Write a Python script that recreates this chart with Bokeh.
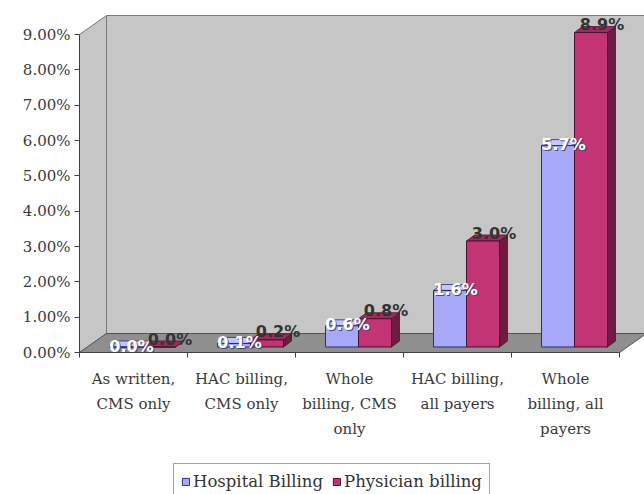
from bokeh.plotting import figure
from bokeh.models import (Range1d, LinearAxis, FixedTicker, NumeralTickFormatter,
                          Legend, LegendItem)
from bokeh.core.properties import value
from bokeh.embed import file_html
from bokeh.resources import INLINE

# ---- data ---------------------------------------------------------------
categories = [
    "As written,\nCMS only",
    "HAC billing,\nCMS only",
    "Whole\nbilling, CMS\nonly",
    "HAC billing,\nall payers",
    "Whole\nbilling, all\npayers",
]
hospital_pct = [0.0, 0.1, 0.6, 1.6, 5.7]
physician_pct = [0.0, 0.2, 0.8, 3.0, 8.9]
series_names = ["Hospital Billing", "Physician billing"]
y_ticks = [0.00, 0.01, 0.02, 0.03, 0.04, 0.05, 0.06, 0.07, 0.08, 0.09]

# ---- layout / projection constants (pixels -> data units) ----------------
W, H = 644, 494
ORIGIN_X, ORIGIN_Y = 79, 352   # screen position of the value-axis origin
PX_X = 108.0                   # pixels per category
PX_Y = 3533.33                 # pixels per unit of the value axis (fraction)

n = len(categories)
ymax = y_ticks[-1]

DX, DY = 27 / PX_X, 19 / PX_Y        # depth of walls / floor
BX, BY = 9 / PX_X, 5.5 / PX_Y        # bars sit a third into the depth
BW = 33 / PX_X                        # bar width
BDX, BDY = 8 / PX_X, 6 / PX_Y         # bar depth

p = figure(width=W, height=H,
           x_range=Range1d(-ORIGIN_X / PX_X, (W - ORIGIN_X) / PX_X),
           y_range=Range1d(-(H - ORIGIN_Y) / PX_Y, ORIGIN_Y / PX_Y),
           output_backend="svg", toolbar_location=None,
           x_axis_type=None, y_axis_type=None,
           min_border=0)
p.xgrid.visible = False
p.ygrid.visible = False
p.outline_line_color = None
p.background_fill_color = "white"
p.border_fill_color = "white"

WALL = "#c6c6c6"
FLOOR = "#8f8f8f"
EDGE = "#7a7a7a"

# back wall
p.quad(left=[DX], right=[n + DX], bottom=[DY], top=[ymax + DY],
       fill_color=WALL, line_color=EDGE, line_width=1)
# left side wall
p.patch([0, 0, DX, DX], [0, ymax, ymax + DY, DY],
        fill_color=WALL, line_color=EDGE, line_width=1)
# floor
p.patch([0, n, n + DX, DX], [0, 0, DY, DY],
        fill_color=FLOOR, line_color="#555555", line_width=1)

# ---- 3-D bars -------------------------------------------------------------
styles = [
    dict(front="#a8a8f8", top="#c6c6ff", side="#7676c8", line="#2a2a7a"),
    dict(front="#c23473", top="#a02a5e", side="#6e1a42", line="#4a1030"),
]
front_renderers = []
label_data = []
for s, vals in enumerate([hospital_pct, physician_pct]):
    st = styles[s]
    lefts, rights, bottoms, tops = [], [], [], []
    top_xs, top_ys, side_xs, side_ys = [], [], [], []
    for i, v in enumerate(vals):
        c = i + 0.5 + BX
        L = c - BW + s * BW
        R = L + BW
        B = BY
        T = BY + v / 100.0
        lefts.append(L); rights.append(R); bottoms.append(B); tops.append(T)
        top_xs.append([L, R, R + BDX, L + BDX])
        top_ys.append([T, T, T + BDY, T + BDY])
        side_xs.append([R, R + BDX, R + BDX, R])
        side_ys.append([B, B + BDY, T + BDY, T])
    p.patches(side_xs, side_ys, fill_color=st["side"], line_color=st["line"], line_width=0.8)
    p.patches(top_xs, top_ys, fill_color=st["top"], line_color=st["line"], line_width=0.8)
    r = p.quad(left=lefts, right=rights, bottom=bottoms, top=tops,
               fill_color=st["front"], line_color=st["line"], line_width=1)
    front_renderers.append(r)
    centers = [(a + b) / 2 for a, b in zip(lefts, rights)]
    label_data.append((centers, tops, [f"{v:.1f}%" for v in vals]))

# value labels, drawn above all bars
LBL = dict(text_align="center", text_baseline="alphabetic",
           text_font=value("DejaVu Sans"), text_font_style="bold",
           text_font_size="16px")
hx, hy, ht = label_data[0]
p.text(x=hx, y=hy, text=ht, x_offset=6.5, y_offset=0, text_color="#4a4a78", **LBL)
p.text(x=hx, y=hy, text=ht, x_offset=5.5, y_offset=-1, text_color="white", **LBL)
px_, py_, pt_ = label_data[1]
p.text(x=px_, y=py_, text=pt_, x_offset=11, y_offset=-8, text_color="#333333", **LBL)

# ---- axes -------------------------------------------------------------------
AXIS_COL = "#404040"
yaxis = LinearAxis(ticker=FixedTicker(ticks=y_ticks),
                   formatter=NumeralTickFormatter(format="0.00%"),
                   bounds=(0, ymax), fixed_location=0,
                   major_tick_out=5, major_tick_in=0,
                   minor_tick_out=0, minor_tick_in=0,
                   major_label_standoff=4,
                   major_label_text_font="DejaVu Serif",
                   major_label_text_font_size="15px",
                   major_label_text_color="#3a3a3a",
                   axis_line_color=AXIS_COL, major_tick_line_color=AXIS_COL)
p.add_layout(yaxis, "left")

centers_x = [i + 0.5 for i in range(n)]
xaxis = LinearAxis(ticker=FixedTicker(ticks=centers_x, minor_ticks=list(range(n + 1))),
                   major_label_overrides={c: lab for c, lab in zip(centers_x, categories)},
                   bounds=(0, n), fixed_location=0,
                   major_tick_out=0, major_tick_in=0,
                   minor_tick_out=5, minor_tick_in=0,
                   major_label_standoff=12,
                   major_label_text_font="DejaVu Serif",
                   major_label_text_font_size="15px",
                   major_label_text_color="#3a3a3a",
                   major_label_text_line_height=1.39,
                   axis_line_color=AXIS_COL, minor_tick_line_color=AXIS_COL)
p.add_layout(xaxis, "below")

# ---- legend -----------------------------------------------------------------
legend = Legend(items=[LegendItem(label=series_names[0], renderers=[front_renderers[0]]),
                       LegendItem(label=series_names[1], renderers=[front_renderers[1]])],
                orientation="horizontal", location=(173, -5),
                glyph_width=9, glyph_height=9, label_standoff=3, spacing=9,
                padding=7, margin=0, label_height=20,
                label_text_font="DejaVu Serif", label_text_font_size="16.5px",
                label_text_color="#333333",
                border_line_color="#444444", border_line_width=1,
                background_fill_color="white", background_fill_alpha=1)
p.add_layout(legend)

open("out.html", "w").write(file_html(p, INLINE))
